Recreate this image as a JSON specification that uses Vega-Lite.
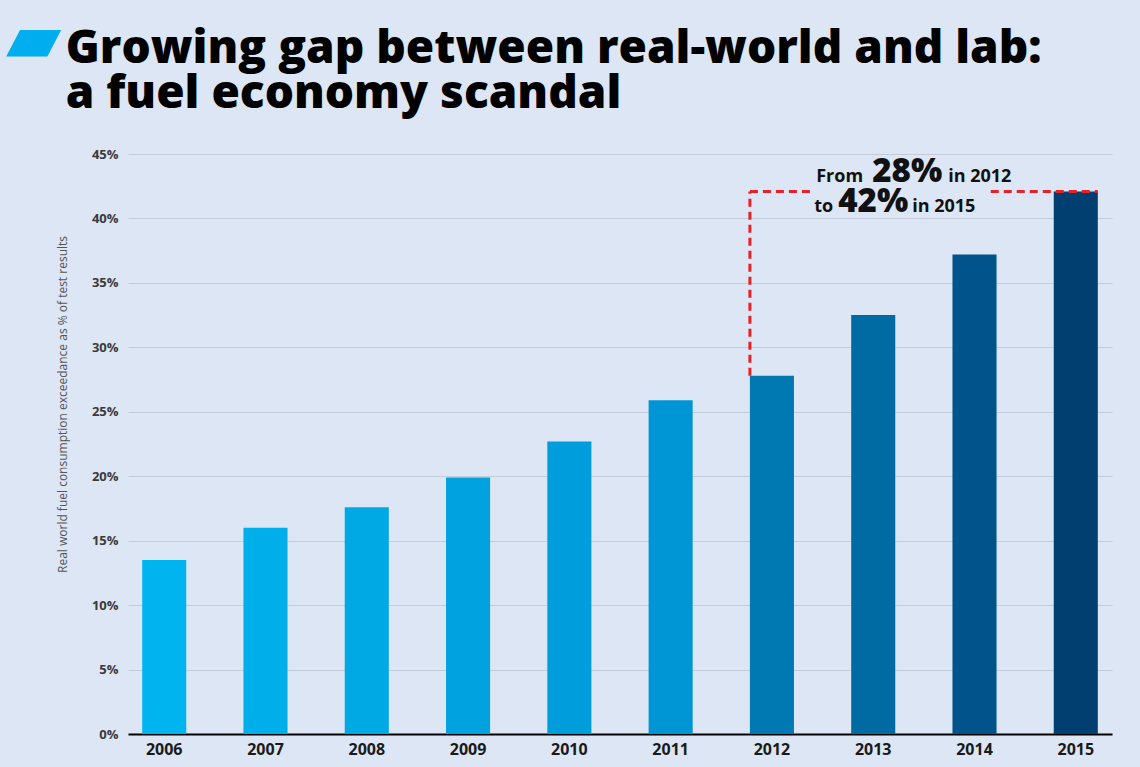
{
  "$schema": "https://vega.github.io/schema/vega-lite/v6.json",
  "width": 984,
  "height": 580,
  "autosize": {"type": "none"},
  "padding": {"left": 128, "top": 154, "right": 28, "bottom": 33},
  "background": "#dce6f4",
  "config": {"view": {"stroke": null}},
  "title": {
    "text": "▰",
    "font": "DejaVu Sans",
    "fontSize": 72,
    "color": "#00aeef",
    "anchor": "start",
    "frame": "group",
    "dx": -122,
    "offset": 30,
    "subtitle": ["\u200b\u00a0\u00a0\u00a0\u00a0\u00a0Growing gap between real-world and lab:", "\u200b\u00a0\u00a0\u00a0\u00a0\u00a0a fuel economy scandal"],
    "subtitleFont": "Open Sans",
    "subtitleFontWeight": 800,
    "subtitleFontSize": 46,
    "subtitleColor": "#000000",
    "subtitleLineHeight": 45,
    "subtitlePadding": -50
  },
  "data": {
    "values": [
      {"year": "2006", "pct": 13.5},
      {"year": "2007", "pct": 16.0},
      {"year": "2008", "pct": 17.6},
      {"year": "2009", "pct": 19.9},
      {"year": "2010", "pct": 22.7},
      {"year": "2011", "pct": 25.9},
      {"year": "2012", "pct": 27.8},
      {"year": "2013", "pct": 32.5},
      {"year": "2014", "pct": 37.2},
      {"year": "2015", "pct": 42.1}
    ]
  },
  "encoding": {
    "x": {
      "field": "year",
      "type": "ordinal",
      "scale": {"paddingInner": 0.565, "paddingOuter": 0.14},
      "axis": {
        "title": null,
        "labelAngle": 0,
        "labelFont": "Open Sans",
        "labelFontWeight": "bold",
        "labelFontSize": 16,
        "labelColor": "#1a1a1a",
        "labelPadding": 7,
        "ticks": false,
        "domainColor": "#000000",
        "domainWidth": 2
      }
    }
  },
  "layer": [
    {
      "mark": {"type": "bar"},
      "encoding": {
        "y": {
          "field": "pct",
          "type": "quantitative",
          "scale": {"domain": [0, 45], "nice": false},
          "axis": {
            "values": [0, 5, 10, 15, 20, 25, 30, 35, 40, 45],
            "labelExpr": "datum.value + '%'",
            "labelFont": "Open Sans",
            "labelFontWeight": "bold",
            "labelFontSize": 13,
            "labelColor": "#3a3a3a",
            "labelPadding": 10,
            "ticks": false,
            "domain": false,
            "gridColor": "#c3cbd8",
            "gridWidth": 1,
            "title": "Real world fuel consumption exceedance as % of test results",
            "titleFont": "Open Sans",
            "titleFontWeight": "normal",
            "titleFontSize": 12,
            "titleColor": "#555555",
            "titleAngle": -90,
            "titleAlign": "center",
            "titleBaseline": "middle",
            "titleX": -66,
            "titleY": 250
          }
        },
        "color": {
          "field": "year",
          "type": "ordinal",
          "legend": null,
          "scale": {"range": ["#00b5ef", "#00aeea", "#00a8e4", "#00a3e0", "#009ddc", "#0096d6", "#0079b3", "#006ba3", "#00548b", "#003f70"]}
        }
      }
    },
    {
      "data": {"values": [{}]},
      "mark": {"type": "rule", "color": "#e8202a", "strokeWidth": 3, "strokeDash": [8, 5]},
      "encoding": {
        "x": {"datum": "2012", "type": "ordinal", "bandPosition": 0},
        "y": {"datum": 27.8, "type": "quantitative"},
        "y2": {"datum": 42.1}
      }
    },
    {
      "data": {"values": [{}]},
      "mark": {"type": "rule", "color": "#e8202a", "strokeWidth": 3, "strokeDash": [8, 5]},
      "encoding": {
        "x": {"datum": "2012", "type": "ordinal", "bandPosition": 0},
        "x2": {"datum": "2012", "bandPosition": 1.45},
        "y": {"datum": 42.1, "type": "quantitative"}
      }
    },
    {
      "data": {"values": [{}]},
      "mark": {"type": "rule", "color": "#e8202a", "strokeWidth": 3, "strokeDash": [8, 5]},
      "encoding": {
        "x": {"datum": "2015", "type": "ordinal", "bandPosition": -1.43},
        "x2": {"datum": "2015", "bandPosition": 1},
        "y": {"datum": 42.1, "type": "quantitative"}
      }
    },
    {
      "data": {"values": [{}]},
      "mark": {"type": "text", "text": "From", "align": "left", "baseline": "alphabetic", "dx": -57, "font": "Open Sans", "fontWeight": "bold", "fontSize": 18, "color": "#111111"},
      "encoding": {"x": {"datum": "2013", "type": "ordinal"}, "y": {"datum": 42.8, "type": "quantitative"}}
    },
    {
      "data": {"values": [{}]},
      "mark": {"type": "text", "text": "28%", "align": "left", "baseline": "alphabetic", "dx": -1, "font": "Open Sans", "fontWeight": 800, "fontSize": 33, "color": "#111111"},
      "encoding": {"x": {"datum": "2013", "type": "ordinal"}, "y": {"datum": 42.8, "type": "quantitative"}}
    },
    {
      "data": {"values": [{}]},
      "mark": {"type": "text", "text": "in 2012", "align": "left", "baseline": "alphabetic", "dx": 75, "font": "Open Sans", "fontWeight": "bold", "fontSize": 18, "color": "#111111"},
      "encoding": {"x": {"datum": "2013", "type": "ordinal"}, "y": {"datum": 42.8, "type": "quantitative"}}
    },
    {
      "data": {"values": [{}]},
      "mark": {"type": "text", "text": "to", "align": "left", "baseline": "alphabetic", "dx": -59, "font": "Open Sans", "fontWeight": "bold", "fontSize": 18, "color": "#111111"},
      "encoding": {"x": {"datum": "2013", "type": "ordinal"}, "y": {"datum": 40.5, "type": "quantitative"}}
    },
    {
      "data": {"values": [{}]},
      "mark": {"type": "text", "text": "42%", "align": "left", "baseline": "alphabetic", "dx": -35, "font": "Open Sans", "fontWeight": 800, "fontSize": 33, "color": "#111111"},
      "encoding": {"x": {"datum": "2013", "type": "ordinal"}, "y": {"datum": 40.5, "type": "quantitative"}}
    },
    {
      "data": {"values": [{}]},
      "mark": {"type": "text", "text": "in 2015", "align": "left", "baseline": "alphabetic", "dx": 39, "font": "Open Sans", "fontWeight": "bold", "fontSize": 18, "color": "#111111"},
      "encoding": {"x": {"datum": "2013", "type": "ordinal"}, "y": {"datum": 40.5, "type": "quantitative"}}
    }
  ]
}
